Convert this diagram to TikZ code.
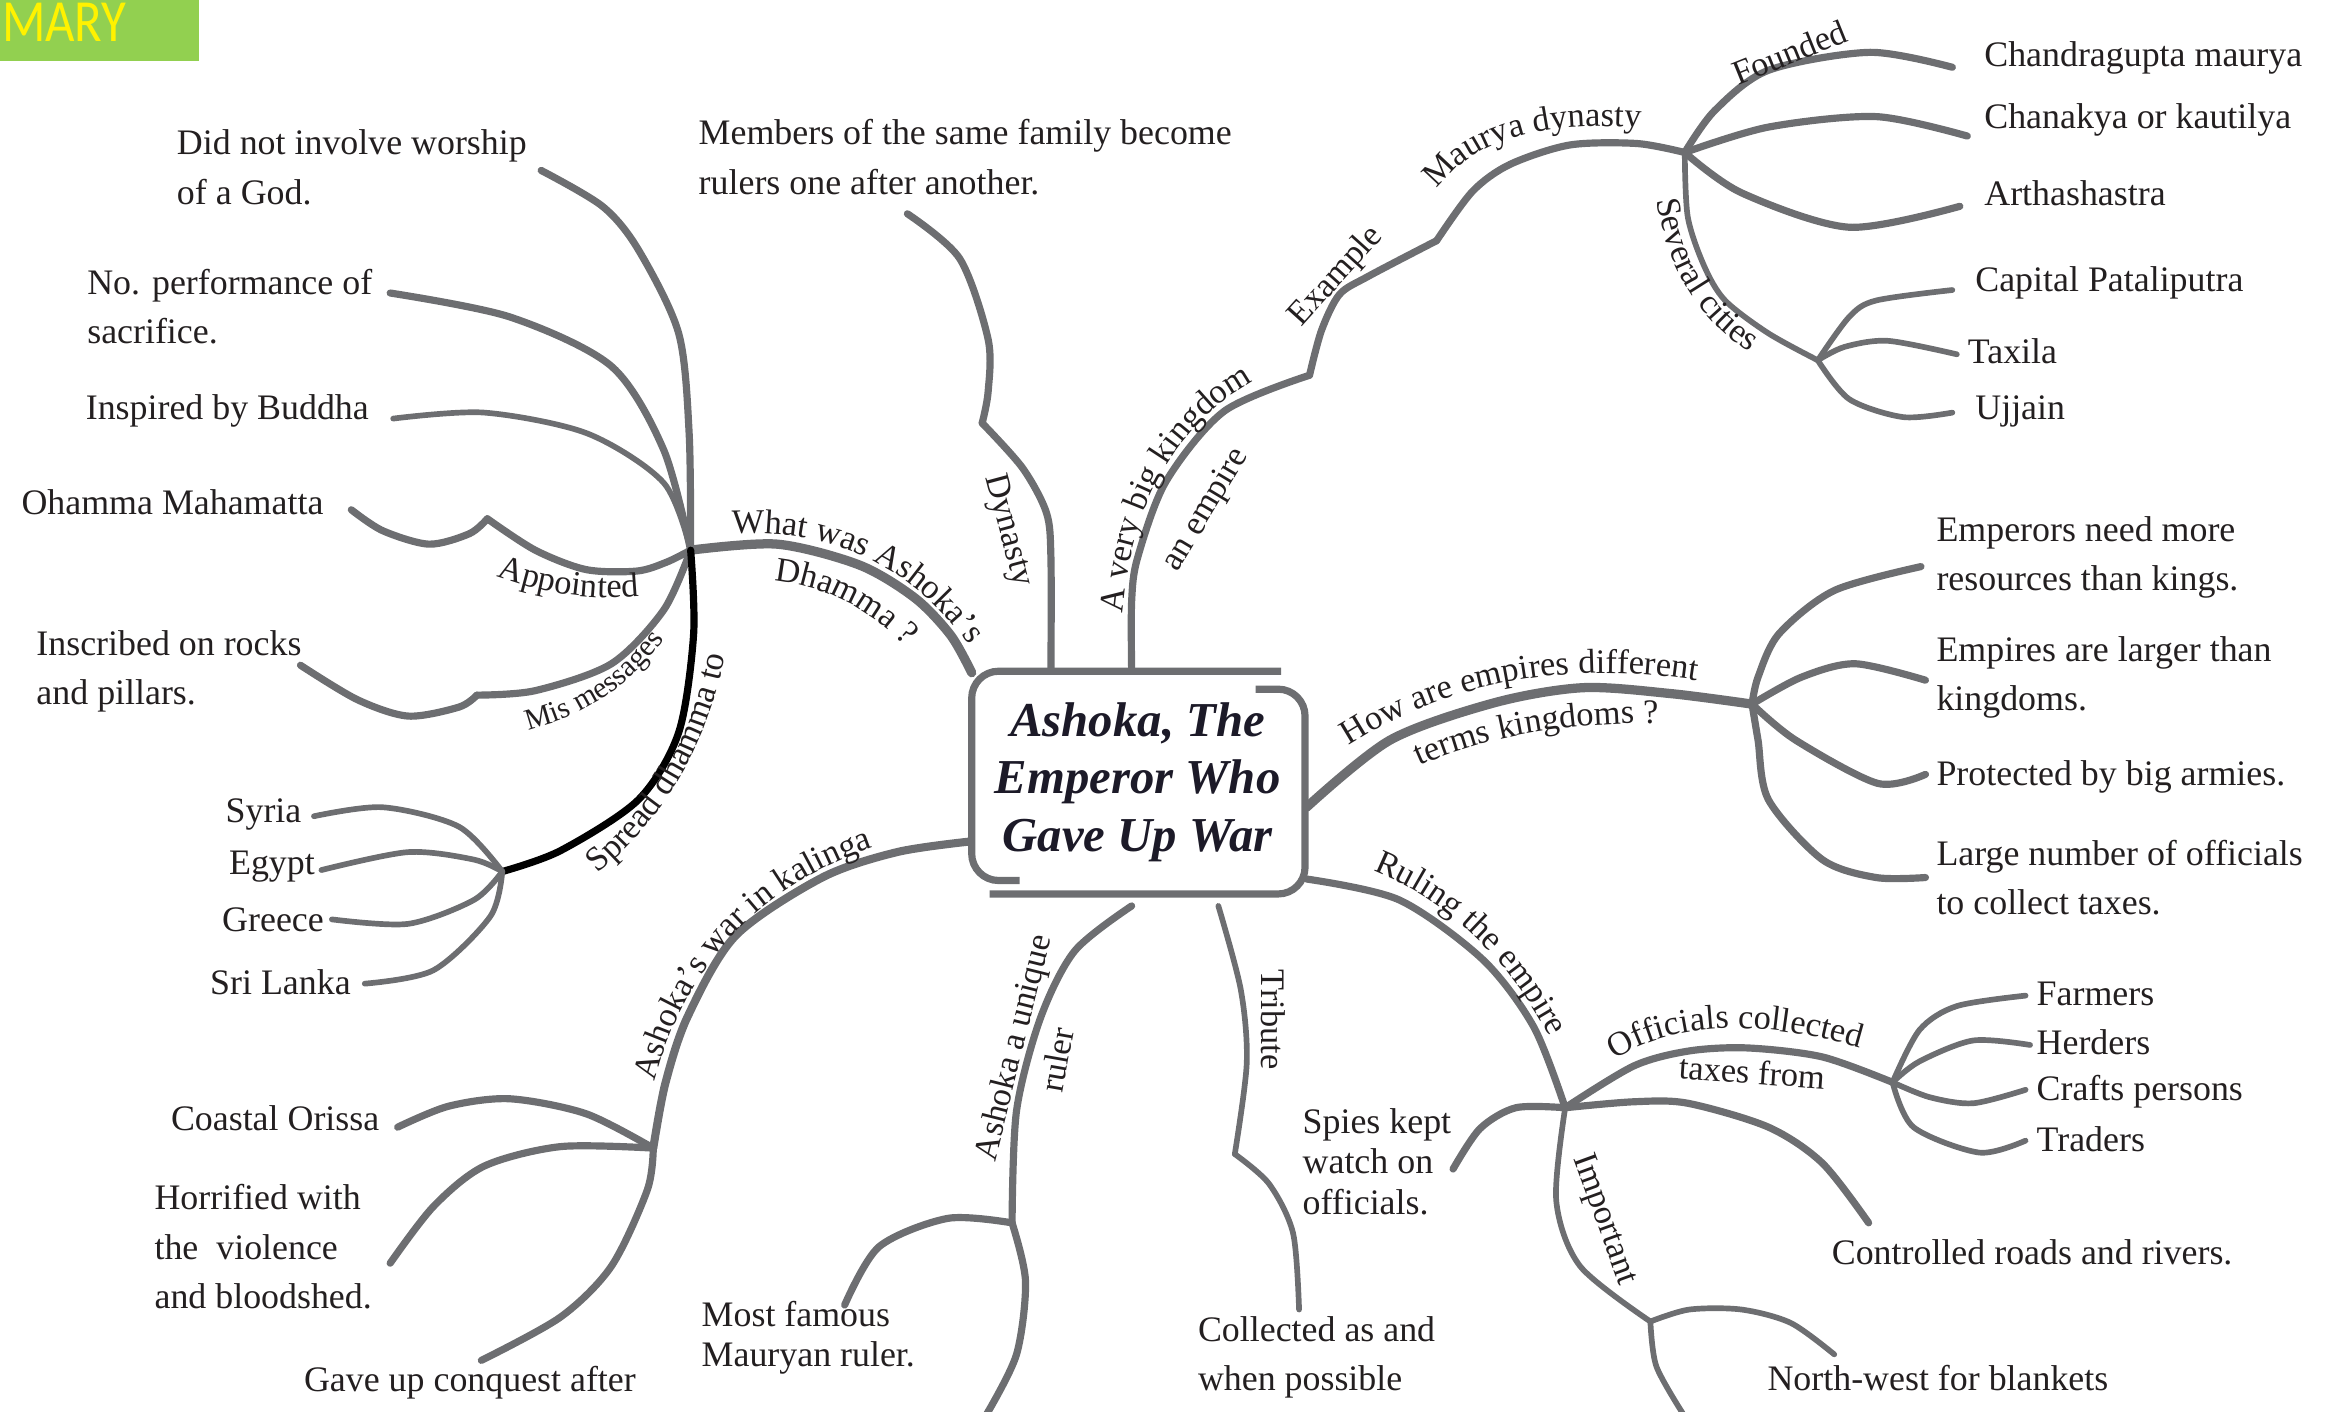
\documentclass[tikz,border=0pt]{standalone}
\usepackage{fontspec}
\setmainfont{Liberation Serif}
\newfontfamily\carl{Carlito}
\usetikzlibrary{decorations.text}
\definecolor{branch}{RGB}{109,110,113}
\definecolor{txt}{RGB}{35,31,32}
\definecolor{titlec}{RGB}{28,26,40}
\definecolor{sumgreen}{RGB}{146,208,80}
\newcommand\lblfont{\fontsize{11.5}{11.5}\selectfont}
\newcommand\lblsmall{\fontsize{10}{10}\selectfont}
\newcommand\txtfont{\fontsize{12}{16.5}\selectfont}
\tikzset{
  br/.style={draw=branch, line width=2.4pt, line cap=round, line join=round},
  brthick/.style={br, line width=3.1pt},
  brthin/.style={br, line width=1.9pt},
  brblack/.style={draw=black, line width=2.4pt, line cap=round},
  info/.style={inner sep=0pt, text=txt, font=\txtfont, align=left, anchor=west},
  infotight/.style={info, font=\fontsize{12}{13.5}\selectfont},
  infor/.style={inner sep=0pt, text=txt, font=\txtfont, anchor=east},
  lbl/.style={inner sep=0pt, text=txt, font=\lblfont},
  alongpath/.style={decorate, decoration={text along path, text align=center, text color=txt, text={|\lblfont|#1}}},
}
\begin{document}
\begin{tikzpicture}[x=0.5pt,y=-0.5pt]
\useasboundingbox (0,0) rectangle (1568,944);

% header tab
\fill[sumgreen] (0,0) rectangle (133,41);
\node[anchor=base west, inner sep=0pt, text=yellow, font=\carl\fontsize{20}{20}\selectfont, xscale=0.85] (mary) at (1,28) {MARY};

% junctions and end points
\coordinate (J1) at (462,368);
\coordinate (J2) at (336,583);
\coordinate (J3) at (1127,102);
\coordinate (J4) at (1216,241);
\coordinate (J5) at (1172,471);
\coordinate (J6) at (1047,741);
\coordinate (J7) at (1266,724);
\coordinate (J8) at (1104,884);
\coordinate (J9) at (677,818);
\coordinate (J10) at (437,768);
\coordinate (bA) at (650,450);
\coordinate (bB) at (703,449);
\coordinate (bC) at (757,449);
\coordinate (bD) at (874,540);
\coordinate (bE) at (874,588);
\coordinate (bF) at (815,606);
\coordinate (bG) at (757,606);
\coordinate (bH) at (648,563);
\coordinate (eGod) at (362,114);
\coordinate (eSac) at (261,196);
\coordinate (eBud) at (263,280);
\coordinate (eOha) at (235,341);
\coordinate (kOha) at (326,347);
\coordinate (eIns) at (201,445);
\coordinate (kIns) at (319,465);
\coordinate (eSyr) at (210,546);
\coordinate (eEgy) at (215,582);
\coordinate (eGre) at (222,615);
\coordinate (eSri) at (244,658);
\coordinate (eDyn) at (607,143);
\coordinate (kDyn) at (657,283);
\coordinate (kK1) at (876,251);
\coordinate (kK2) at (961,161);
\coordinate (eCha) at (1306,45);
\coordinate (eChk) at (1316,91);
\coordinate (eArt) at (1311,138);
\coordinate (eCap) at (1306,194);
\coordinate (eTax) at (1309,237);
\coordinate (eUjj) at (1306,276);
\coordinate (eEmp) at (1285,379);
\coordinate (eLar) at (1288,455);
\coordinate (ePro) at (1288,518);
\coordinate (eOff) at (1288,587);
\coordinate (eSpi) at (972,782);
\coordinate (eCon) at (1250,818);
\coordinate (eFar) at (1355,666);
\coordinate (eHer) at (1358,699);
\coordinate (eCra) at (1355,729);
\coordinate (eTra) at (1355,763);
\coordinate (eNor) at (1227,906);
\coordinate (eDown) at (1126,946);
\coordinate (kTri) at (826,772);
\coordinate (eTri) at (869,876);
\coordinate (eUni) at (660,946);
\coordinate (eMos) at (565,873);
\coordinate (eCoa) at (266,754);
\coordinate (eHor) at (261,845);
\coordinate (eGav) at (322,910);

% central box
\draw[branch, line width=2.4pt, rounded corners=9pt] (857,449) -- (650,449) -- (650,589) -- (682,589);
\draw[branch, line width=2.4pt, rounded corners=9pt] (840,461) -- (873,461) -- (873,598) -- (662,598);
\node[font=\fontsize{16.3}{19.25}\selectfont\bfseries\itshape, text=titlec, align=center, inner sep=0pt] (title) at (761,523) {Ashoka, The\\Emperor Who\\Gave Up War};

% ---- Dhamma cluster
\draw[brthick] plot[smooth] coordinates {(J1) (520,364) (575,378) (612,400) (636,425) (bA)};
\draw[br] plot[smooth] coordinates {(eGod) (403,138) (427,167) (454,223) (461,290) (J1)};
\draw[br] plot[smooth] coordinates {(eSac) (341,212) (409,245) (444,301) (J1)};
\draw[brthin] plot[smooth] coordinates {(eBud) (324,276) (393,290) (444,323) (J1)};
\draw[br] plot[smooth] coordinates {(eOha) (256,355) (287,364) (314,357) (kOha)};
\draw[br] plot[smooth] coordinates {(kOha) (358,368) (392,381) (426,382) (446,376) (J1)};
\draw[br] plot[smooth] coordinates {(eIns) (239,468) (273,479) (307,473) (kIns)};
\draw[br] plot[smooth] coordinates {(kIns) (358,462) (409,444) (444,408) (J1)};
\draw[brblack] plot[smooth] coordinates {(J1) (464,424) (454,490) (427,535) (375,569) (J2)};
\draw[brthin] plot[smooth] coordinates {(eSyr) (256,540) (307,553) (J2)};
\draw[brthin] plot[smooth] coordinates {(eEgy) (273,570) (317,575) (J2)};
\draw[brthin] plot[smooth] coordinates {(eGre) (273,618) (317,602) (J2)};
\draw[brthin] plot[smooth] coordinates {(eSri) (290,649) (328,613) (J2)};

% ---- Dynasty
\draw[br] plot[smooth] coordinates {(eDyn) (642,173) (661,227) (661,262) (kDyn)};
\draw[br] plot[smooth] coordinates {(kDyn) (684,313) (700,343) (703,373) (bB)};

% ---- Empire / Maurya
\draw[br] plot[smooth] coordinates {(bC) (757,402) (761,373) (780,322) (819,275) (kK1)};
\draw[br] plot[smooth] coordinates {(kK1) (884,221) (896,197) (915,185) (kK2)};
\draw[br] plot[smooth] coordinates {(kK2) (985,128) (1010,110) (1050,97) (1095,96) (J3)};
\draw[br] plot[smooth] coordinates {(J3) (1147,74) (1183,47) (1251,35) (eCha)};
\draw[br] plot[smooth] coordinates {(J3) (1183,85) (1255,78) (eChk)};
\draw[br] plot[smooth] coordinates {(J3) (1165,129) (1237,152) (eArt)};
\draw[brthin] plot[smooth] coordinates {(J3) (1129,145) (1140,178) (1154,201) (1183,223) (J4)};
\draw[brthin] plot[smooth] coordinates {(J4) (1237,212) (1255,201) (eCap)};
\draw[brthin] plot[smooth] coordinates {(J4) (1234,232) (1263,228) (eTax)};
\draw[brthin] plot[smooth] coordinates {(J4) (1237,267) (1273,279) (eUjj)};

% ---- Empires vs kingdoms
\draw[brthick] plot[smooth] coordinates {(bD) (930,495) (1000,470) (1059,460) (1118,464) (J5)};
\draw[br] plot[smooth] coordinates {(J5) (1176,453) (1190,424) (1227,395) (eEmp)};
\draw[br] plot[smooth] coordinates {(J5) (1205,453) (1241,444) (eLar)};
\draw[br] plot[smooth] coordinates {(J5) (1201,495) (1256,524) (ePro)};
\draw[br] plot[smooth] coordinates {(J5) (1176,495) (1183,535) (1219,575) (1255,587) (eOff)};

% ---- Ruling the empire
\draw[br] plot[smooth] coordinates {(bE) (936,602) (992,642) (1026,687) (J6)};
\draw[br] plot[smooth] coordinates {(J6) (1014,741) (990,755) (eSpi)};
\draw[br] plot[smooth] coordinates {(J6) (1093,737) (1129,738) (1183,754) (1219,778) (eCon)};
\draw[br] plot[smooth] coordinates {(J6) (1093,713) (1130,703) (1169,701) (1219,707) (J7)};
\draw[brthin] plot[smooth] coordinates {(J7) (1284,689) (1309,673) (eFar)};
\draw[brthin] plot[smooth] coordinates {(J7) (1284,710) (1320,696) (eHer)};
\draw[brthin] plot[smooth] coordinates {(J7) (1291,734) (1320,738) (eCra)};
\draw[brthin] plot[smooth] coordinates {(J7) (1280,754) (1324,771) (eTra)};
\draw[brthin] plot[smooth] coordinates {(J6) (1041,803) (1057,847) (J8)};
\draw[brthin] plot[smooth] coordinates {(J8) (1130,876) (1165,876) (1198,885) (eNor)};
\draw[brthin] plot[smooth] coordinates {(J8) (1108,914) (eDown)};

% ---- Tribute
\draw[brthin] plot[smooth] coordinates {(bF) (830,662) (834,711) (kTri)};
\draw[brthin] plot[smooth] coordinates {(kTri) (849,792) (865,825) (eTri)};

% ---- Unique ruler
\draw[br] plot[smooth] coordinates {(bG) (719,636) (696,681) (680,743) (J9)};
\draw[br] plot[smooth] coordinates {(J9) (686,857) (680,906) (eUni)};
\draw[br] plot[smooth] coordinates {(J9) (634,815) (588,834) (eMos)};

% ---- Kalinga war
\draw[br, line width=2.7pt] plot[smooth] coordinates {(bH) (600,570) (550,587) (492,626) (460,680) (445,725) (J10)};
\draw[br] plot[smooth] coordinates {(J10) (392,745) (341,735) (300,740) (eCoa)};
\draw[br] plot[smooth] coordinates {(J10) (375,767) (324,780) (290,807) (eHor)};
\draw[br] plot[smooth] coordinates {(J10) (433,796) (409,847) (375,881) (eGav)};

% ---- curved labels
\path[alongpath={What was Ashoka's}] (468,359) .. controls (553.3,347.3) and (617.3,377.7) .. (660,450);
\path[alongpath={Dhamma ?}] (505,388) .. controls (548.7,388.7) and (585,406.7) .. (614,442);
\path[alongpath={Maurya dynasty}] (953,140) .. controls (975.7,95) and (1029,77.3) .. (1113,87);
\path[alongpath={How are empires different}] (893,505) .. controls (964.7,455.7) and (1049,439.7) .. (1146,457);
\path[alongpath={terms kingdoms ?}] (940,517) .. controls (986.7,493.3) and (1046.7,482.3) .. (1120,484);
\path[alongpath={Ruling the empire}] (912,580) .. controls (966.7,600) and (1009.3,640) .. (1040,700);
\path[alongpath={Officials collected}] (1075,712) .. controls (1116.7,683) and (1175,680) .. (1250,703);
\path[alongpath={Ashoka's war in kalinga}] (434,740) .. controls (453.3,647.3) and (508.7,588) .. (600,562);
\path[alongpath={Spread dhamma to}] (385,596) .. controls (444,553.3) and (478.3,494.7) .. (488,420);
\path[alongpath={A very big kingdom}] (750,420) .. controls (755,336.3) and (787.3,280) .. (847,251);
\path[alongpath={Several cities}] (1106,112) .. controls (1110,178) and (1138,222.7) .. (1190,246);
\path[alongpath={Appointed}] (325,383) .. controls (364.3,398) and (401,403) .. (435,398);
\path[decorate, decoration={text along path, text align=center, text color=txt, text={|\lblsmall|Mis messages}}] (335,492) .. controls (388.3,484) and (428.3,457.3) .. (455,412);

% ---- straight labels
\node[lbl, rotate=59] (lEmpire) at (807,341) {an empire};
\node[lbl, rotate=48] (lExample) at (894,185) {Example};
\node[lbl, rotate=22] (lFounded) at (1197,35) {Founded};
\node[lbl, rotate=-75] (lDynasty) at (674,355) {Dynasty};
\node[lbl, rotate=-90] (lTribute) at (852,682) {Tribute};
\node[lbl, rotate=-70] (lImportant) at (1073,816) {Important};
\node[lbl, rotate=-4] (lTaxes) at (1172,717) {taxes from};
\node[lbl, rotate=76] (lUnique) at (679,701) {Ashoka a unique};
\node[lbl, rotate=80] (lRuler) at (707,709) {ruler};

% ---- text nodes
\node[info] (tGod) at (118,112) {Did not involve worship\\of a God.};
\node[info] (tSac) at (58,205) {No. performance of\\sacrifice.};
\node[info] (tBud) at (57,275) {Inspired by Buddha};
\node[info] (tOha) at (14,336) {Ohamma Mahamatta};
\node[info] (tIns) at (24,449) {Inscribed on rocks\\and pillars.};
\node[infor] (tSyr) at (202,545) {Syria};
\node[infor] (tEgy) at (211,580) {Egypt};
\node[infor] (tGre) at (217,615) {Greece};
\node[infor] (tSri) at (235,657) {Sri Lanka};
\node[info] (tCoa) at (114,748) {Coastal Orissa};
\node[info] (tHor) at (103,834) {Horrified with\\the\ \ violence\\and bloodshed.};
\node[info] (tGav) at (203,925) {Gave up conquest after};
\node[infotight] (tMos) at (469,895) {Most famous\\Mauryan ruler.};
\node[info] (tMem) at (467,105) {Members of the same family become\\rulers one after another.};
\node[info] (tCol) at (801,908) {Collected as and\\when possible};
\node[infotight] (tSpi) at (871,777) {Spies kept\\watch on\\officials.};
\node[info] (tCon) at (1225,838) {Controlled roads and rivers.};
\node[info] (tNor) at (1182,922) {North-west for blankets};
\node[info] (tFar) at (1362,665) {Farmers};
\node[info] (tHer) at (1362,697) {Herders};
\node[info] (tCra) at (1362,730) {Crafts persons};
\node[info] (tTra) at (1362,762) {Traders};
\node[info] (tEmp) at (1295,373) {Emperors need more\\resources than kings.};
\node[info] (tLar) at (1295,453) {Empires are larger than\\kingdoms.};
\node[info] (tPro) at (1295,520) {Protected by big armies.};
\node[info] (tOff) at (1295,587) {Large number of officials\\to collect taxes.};
\node[info] (tCap) at (1321,189) {Capital Pataliputra};
\node[info] (tTax) at (1316,235) {Taxila};
\node[info] (tUjj) at (1321,275) {Ujjain};
\node[info] (tCha) at (1327,39) {Chandragupta maurya};
\node[info] (tChk) at (1327,80) {Chanakya or kautilya};
\node[info] (tArt) at (1327,129) {Arthashastra};
\end{tikzpicture}
\end{document}
